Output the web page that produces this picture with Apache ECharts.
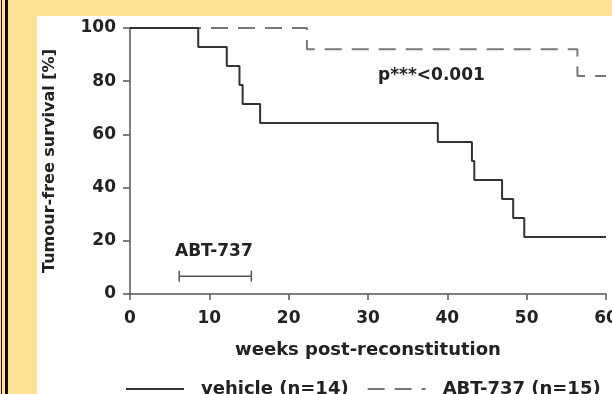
<!DOCTYPE html>
<html>
<head>
<meta charset="utf-8">
<script src="https://cdn.jsdelivr.net/npm/echarts@6/dist/echarts.min.js"></script>
<style>
  html, body { margin: 0; padding: 0; }
  #wrap { position: relative; width: 612px; height: 394px; background: #fde196; overflow: hidden; }
  #paper { position: absolute; left: 37px; top: 16px; right: 0; bottom: 0; background: #fff; }
  .rule { position: absolute; top: 0; bottom: 0; background: #111; }
  #chart { position: absolute; left: 0; top: 0; width: 612px; height: 394px; }
</style>
</head>
<body>
<div id="wrap">
  <div class="rule" style="left:1px;width:1px;"></div>
  <div class="rule" style="left:5px;width:3px;"></div>
  <div id="paper"></div>
  <div id="chart"></div>
</div>
<script>
// 数据：Kaplan-Meier 阶梯（周，%）
const vehicleWeeks = [0, 8.6, 12.2, 13.8, 14.2, 16.4, 38.8, 43.1, 43.4, 46.9, 48.3, 49.7, 60];
const vehicleSurvival = [100, 92.9, 85.7, 78.6, 71.4, 64.3, 57.1, 50.0, 42.9, 35.7, 28.6, 21.4, 21.4];
const abtWeeks = [0, 22.3, 56.4, 60];
const abtSurvival = [100, 92, 82, 82];
// 给药时间段
const treatmentWeeks = [6.2, 15.3];
const treatmentLevel = 6.7;

const seriesNames = ['vehicle (n=14)', 'ABT-737 (n=15)'];
const xTicks = { min: 0, max: 60, interval: 10 };
const yTicks = { min: 0, max: 100, interval: 20 };

const font = 'DejaVu Sans';
const ink = '#222';
const axisGray = '#555';

const zip = (xs, ys) => xs.map((x, i) => [x, ys[i]]);

const chart = echarts.init(document.getElementById('chart'));

chart.setOption({
  backgroundColor: 'transparent',
  animation: false,
  textStyle: { fontFamily: font, fontWeight: 'bold', color: ink },
  grid: { left: 130, right: 6, top: 28, bottom: 100, containLabel: false, outerBoundsMode: 'none' },
  xAxis: {
    type: 'value',
    min: xTicks.min, max: xTicks.max, interval: xTicks.interval,
    name: 'weeks post-reconstitution',
    nameLocation: 'middle',
    nameGap: 47,
    nameTextStyle: { fontFamily: font, fontWeight: 'bold', fontSize: 18, color: ink },
    axisLine: { lineStyle: { color: axisGray, width: 1.5 } },
    axisTick: { inside: false, length: 6, lineStyle: { color: axisGray, width: 1.5 } },
    axisLabel: { margin: 16, fontFamily: font, fontWeight: 'bold', fontSize: 17, color: ink, hideOverlap: false },
    splitLine: { show: false }
  },
  yAxis: {
    type: 'value',
    min: yTicks.min, max: yTicks.max, interval: yTicks.interval,
    name: 'Tumour-free survival [%]',
    nameLocation: 'middle',
    nameRotate: 90,
    nameGap: 72,
    nameTextStyle: { fontFamily: font, fontWeight: 'bold', fontSize: 16, color: ink },
    axisLine: { show: true, lineStyle: { color: axisGray, width: 1.5 } },
    axisTick: { show: true, inside: false, length: 7, lineStyle: { color: axisGray, width: 1.5 } },
    axisLabel: { margin: 14, fontFamily: font, fontWeight: 'bold', fontSize: 17, color: ink },
    splitLine: { show: false }
  },
  legend: {
    data: seriesNames,
    left: 120,
    top: 375,
    itemWidth: 58,
    itemHeight: 14,
    itemGap: 18,
    itemStyle: { color: 'transparent', borderColor: 'transparent', borderWidth: 0 },
    textStyle: { fontFamily: font, fontWeight: 'bold', fontSize: 18, color: ink, padding: [0, 0, 0, 12] }
  },
  graphic: [
    {
      type: 'text', left: 378, top: 67,
      style: { text: 'p***<0.001', font: 'bold 17px "DejaVu Sans"', fill: ink }
    },
    {
      type: 'text', left: 175, top: 243,
      style: { text: 'ABT-737', font: 'bold 17px "DejaVu Sans"', fill: ink }
    }
  ],
  series: [
    {
      name: seriesNames[0],
      type: 'line',
      step: 'end',
      data: zip(vehicleWeeks, vehicleSurvival),
      symbol: 'none',
      z: 4,
      lineStyle: { color: '#333', width: 2 },
      itemStyle: { color: '#333' }
    },
    {
      name: seriesNames[1],
      type: 'line',
      step: 'end',
      data: zip(abtWeeks, abtSurvival),
      symbol: 'none',
      z: 3,
      lineStyle: { color: '#777', width: 2, type: [17, 10] },
      itemStyle: { color: '#777' }
    },
    {
      name: 'treatment',
      type: 'line',
      data: treatmentWeeks.map(w => [w, treatmentLevel]),
      symbol: 'rect',
      symbolSize: [1.5, 11],
      silent: true,
      lineStyle: { color: axisGray, width: 1.5 },
      itemStyle: { color: axisGray }
    }
  ]
});
</script>
</body>
</html>
